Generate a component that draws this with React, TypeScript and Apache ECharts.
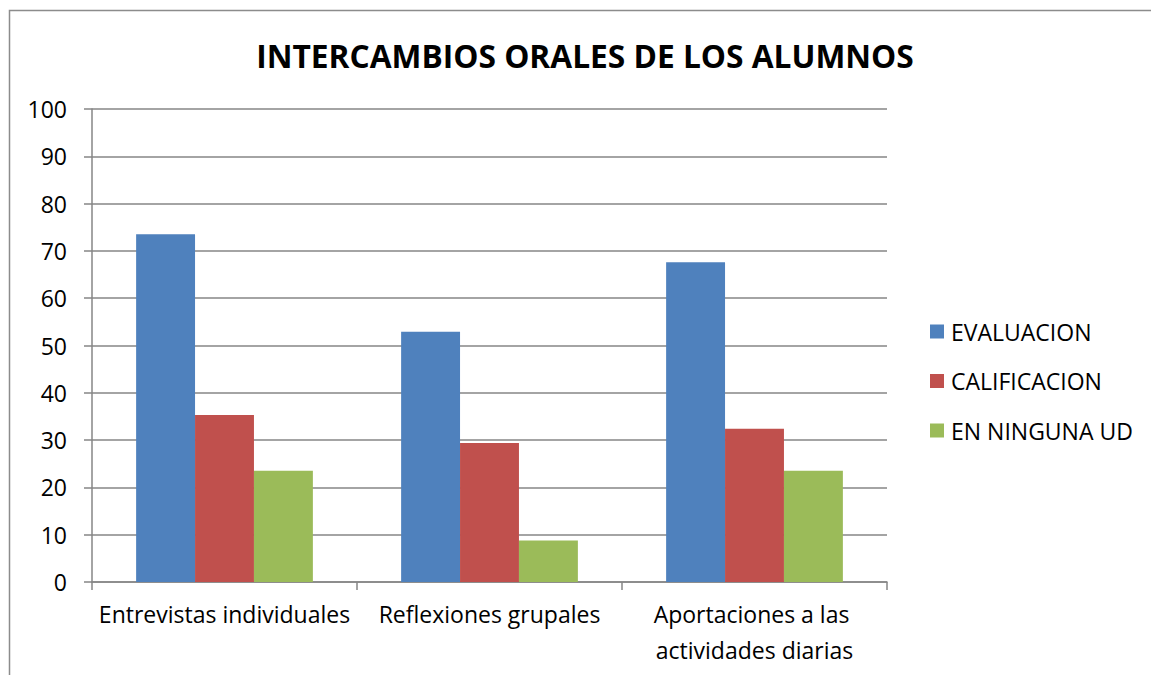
import React, { useEffect, useRef } from "react";
import * as echarts from "echarts";

const categories = [
  "Entrevistas individuales",
  "Reflexiones grupales",
  "Aportaciones a las actividades diarias",
];
const seriesNames = ["EVALUACION", "CALIFICACION", "EN NINGUNA UD"];
const evaluacion = [73.5, 52.9, 67.6];
const calificacion = [35.3, 29.4, 32.4];
const ninguna = [23.5, 8.8, 23.5];
const colors = ["#4F81BD", "#C0504D", "#9BBB59"];
const yTicks = { min: 0, max: 100, interval: 10 };

const FONT = "'Open Sans', 'Noto Sans', sans-serif";

export default function App() {
  const ref = useRef<HTMLDivElement>(null);
  useEffect(() => {
    if (!ref.current) return;
    const chart = echarts.init(ref.current, null, { renderer: "svg" });
    const values = [evaluacion, calificacion, ninguna];
    chart.setOption({
      animation: false,
      backgroundColor: "#ffffff",
      title: {
        text: "INTERCAMBIOS ORALES DE LOS ALUMNOS",
        left: 580,
        textAlign: "center",
        top: 34,
        textStyle: { fontFamily: FONT, fontSize: 31.7, fontWeight: "bold", color: "#000" },
      },
      graphic: [
        {
          type: "rect",
          shape: { x: 9.5, y: 10.5, width: 1300, height: 800 },
          style: { fill: "none", stroke: "#8c8c8c", lineWidth: 1.5 },
          silent: true,
        },
      ],
      legend: {
        orient: "vertical",
        left: 925,
        top: 315,
        itemWidth: 14,
        itemHeight: 14,
        itemGap: 26.5,
        icon: "rect",
        textStyle: {
          fontFamily: FONT,
          fontSize: 23,
          lineHeight: 22,
          color: "#000",
          padding: [0, 0, 0, 2],
        },
        data: seriesNames,
      },
      grid: { left: 92, right: 264, top: 109, bottom: 93, containLabel: false },
      xAxis: {
        type: "category",
        data: categories,
        axisLine: { lineStyle: { color: "#868686", width: 1.5 } },
        axisTick: { show: true, length: 8, interval: 0, lineStyle: { color: "#868686", width: 1.5 } },
        axisLabel: {
          interval: 0,
          margin: 14,
          fontFamily: FONT,
          fontSize: 23,
          color: "#000",
          lineHeight: 36,
          width: 265,
          overflow: "break",
        },
      },
      yAxis: {
        type: "value",
        min: yTicks.min,
        max: yTicks.max,
        interval: yTicks.interval,
        axisLine: { show: true, lineStyle: { color: "#868686", width: 1.5 } },
        axisTick: { show: true, length: 8, lineStyle: { color: "#868686", width: 1.5 } },
        splitLine: { lineStyle: { color: "#868686", width: 1.5 } },
        axisLabel: { margin: 25, fontFamily: FONT, fontSize: 23, color: "#000" },
      },
      series: seriesNames.map((name, i) => ({
        name,
        type: "bar",
        data: values[i],
        barGap: "0%",
        barCategoryGap: "33.3%",
        itemStyle: { color: colors[i] },
      })),
    });
    return () => chart.dispose();
  }, []);
  return (
    <div
      ref={ref}
      style={{ position: "absolute", left: 0, top: 0, width: 1151, height: 675 }}
    />
  );
}
